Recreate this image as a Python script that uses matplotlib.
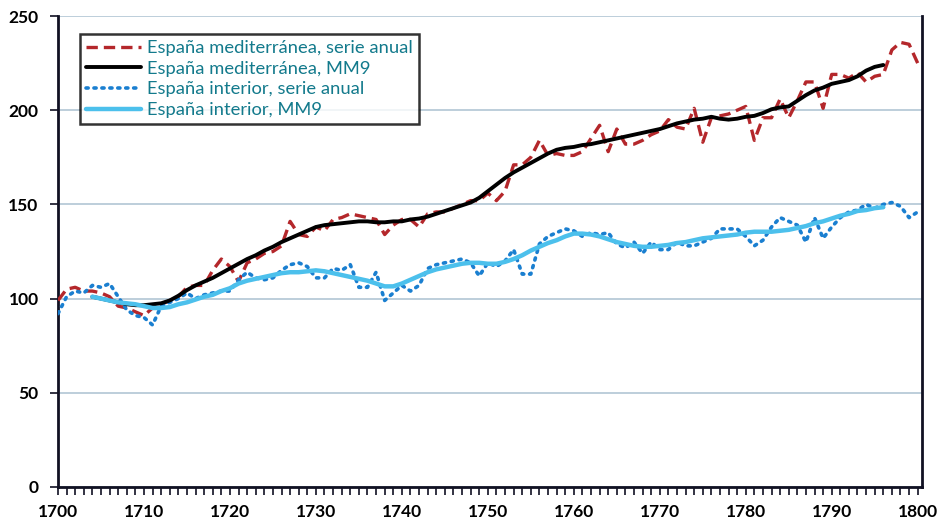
import numpy as np
import matplotlib
matplotlib.use("Agg")
import matplotlib.pyplot as plt
from matplotlib.ticker import MultipleLocator

plt.rcParams['font.family'] = ['Lato', 'DejaVu Sans']

years = list(range(1700, 1801))
mm9_years = list(range(1704, 1797))

# España mediterránea, serie anual
med_annual = [99, 105, 106, 104, 104, 103, 101, 96, 95, 93,
              91, 95, 97, 99, 101, 106, 107, 107, 115, 121,
              117, 109, 119, 121, 124, 125, 128, 141, 134, 133,
              138, 136, 142, 143, 145, 144, 143, 142, 134, 139,
              142, 142, 138, 145, 146, 146, 148, 150, 152, 152,
              156, 152, 157, 171, 171, 175, 184, 176, 177, 176,
              176, 178, 185, 192, 178, 190, 182, 182, 184, 187,
              189, 195, 191, 190, 201, 183, 196, 197, 198, 200,
              202, 184, 196, 196, 206, 196, 205, 215, 215, 201,
              219, 219, 217, 220, 215, 218, 219, 232, 236, 235,
              225]

# España mediterránea, MM9
med_mm9 = [101, 100, 99, 98, 97, 96.5,
           96.5, 97, 97.5, 99, 101.5, 104.5, 107, 109, 111, 113.5,
           116, 118.5, 121, 123, 125.5, 127.5, 130, 132, 134, 136,
           138, 139, 139.5, 140, 140.5, 141, 141, 140.5, 140.5, 141,
           141, 142, 142.5, 143.5, 145, 146.5, 148, 149.5, 151, 153.5,
           157, 160.5, 164, 167, 169.5, 172, 174.5, 177, 179, 180,
           180.5, 181.5, 182, 183, 184, 185, 186, 187, 188, 189,
           190, 191.5, 193, 194, 195, 195.5, 196.5, 195.5, 195, 195.5,
           196.5, 197, 198.5, 200.5, 201.5, 202, 205, 208, 210.5, 212,
           214, 215, 216, 218, 221, 223, 224]

# España interior, serie anual
int_annual = [92, 101, 104, 103, 107, 106, 108, 101, 94, 91,
              90, 86, 96, 98, 100, 103, 100, 102, 103, 104,
              104, 110, 114, 111, 110, 111, 115, 118, 119, 117,
              111, 111, 116, 115, 118, 106, 106, 114, 99, 103,
              107, 104, 107, 116, 118, 119, 120, 121, 119, 112,
              119, 117, 120, 126, 113, 113, 129, 133, 135, 137,
              136, 133, 135, 134, 135, 129, 127, 130, 124, 130,
              126, 126, 130, 128, 128, 130, 132, 137, 137, 137,
              133, 128, 131, 138, 143, 141, 139, 130, 143, 132,
              138, 143, 146, 147, 150, 148, 150, 151, 149, 143,
              146]

# España interior, MM9
int_mm9 = [101, 100, 99, 98, 97.5, 97,
           96, 95, 95, 95.5, 97, 98, 99.5, 101, 102, 104,
           105.5, 108, 109.5, 110.5, 111.5, 112.5, 113.5, 114, 114, 114.5,
           115, 114.5, 113.5, 112.5, 111.5, 110.5, 109.5, 108, 106.5, 106.5,
           108, 110, 112, 114, 115.5, 116.5, 117.5, 118.5, 119, 119,
           118.5, 118.5, 119.5, 121, 123, 125.5, 127.5, 129.5, 131, 133,
           134.5, 134.5, 134, 133, 131.5, 130, 129, 128, 127.5, 127.5,
           128, 128.5, 129.5, 130, 131, 132, 132.5, 133, 133.5, 134,
           135, 135.5, 135.5, 135.5, 136, 136.5, 137.5, 138.5, 140, 141,
           142.5, 144, 145, 146.5, 147, 148, 148.5]

labels = ["España mediterránea, serie anual", "España mediterránea, MM9",
          "España interior, serie anual", "España interior, MM9"]

fig = plt.figure(figsize=(9.43, 5.25), dpi=100)
ax = fig.add_axes([0.0615, 0.0724, 0.9162, 0.8971])

ax.plot(years, med_annual, color='#b4272b', linestyle=(0, (3.4, 1.8)), linewidth=2.4,
        label=labels[0], zorder=3)
ax.plot(mm9_years, med_mm9, color='black', linewidth=2.8, label=labels[1],
        solid_capstyle='round', zorder=4)
ax.plot(years, int_annual, color='#1a7fd0', linestyle=(0, (0.6, 1.6)), linewidth=2.6,
        dash_capstyle='round', label=labels[2], zorder=3)
ax.plot(mm9_years, int_mm9, color='#4cc0ec', linewidth=3.2, label=labels[3],
        solid_capstyle='round', zorder=4)

ax.set_xlim(1700, 1800.5)
ax.set_ylim(0, 250)
ax.xaxis.set_major_locator(MultipleLocator(10))
ax.xaxis.set_minor_locator(MultipleLocator(1))
ax.yaxis.set_major_locator(MultipleLocator(50))

ax.grid(axis='y', color='#b7cad8', linewidth=1.3, zorder=0)
ax.set_axisbelow(True)

for side in ['left', 'bottom', 'right']:
    ax.spines[side].set_linewidth(2)
    ax.spines[side].set_color('#111122')
ax.spines['top'].set_visible(False)

ax.tick_params(axis='x', which='both', direction='out', length=6, width=1.2,
               colors='#111122', pad=6)
ax.tick_params(axis='y', which='major', direction='out', length=6, width=1.2,
               colors='#111122', pad=8)
for lbl in ax.get_xticklabels() + ax.get_yticklabels():
    lbl.set_fontweight('bold')
    lbl.set_fontsize(12.5)
    lbl.set_color('black')

leg = ax.legend(loc='upper left', bbox_to_anchor=(0.025, 0.962), borderaxespad=0,
                fontsize=13.2, handlelength=3.0, handletextpad=0.3,
                labelspacing=0.25, borderpad=0.35, fancybox=False, frameon=True)
leg.get_frame().set_edgecolor('black')
leg.get_frame().set_linewidth(1.8)
for t in leg.get_texts():
    t.set_color('#137a8c')

fig.savefig("out.png", dpi=100)
